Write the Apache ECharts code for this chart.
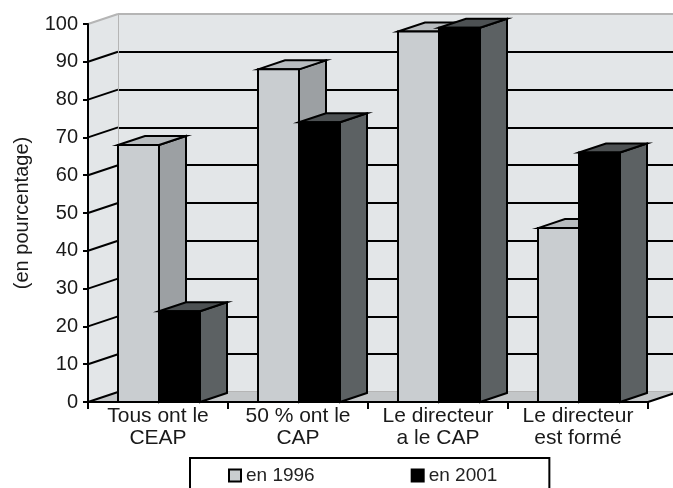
<!DOCTYPE html>
<html>
<head>
<meta charset="utf-8">
<script src="https://cdn.jsdelivr.net/npm/echarts/dist/echarts.min.js"></script>
<style>
  html, body { margin: 0; padding: 0; background: #fff; }
  #main { width: 673px; height: 488px; }
</style>
</head>
<body>
<div id="main"></div>
<script>
var categories = ['Tous ont le\nCEAP', '50 % ont le\nCAP', 'Le directeur\na le CAP', 'Le directeur\nest formé'];
var values1996 = [68, 88, 98, 46];
var values2001 = [24, 74, 99, 66];
var yTicks = [0, 10, 20, 30, 40, 50, 60, 70, 80, 90, 100];
var seriesNames = ['en 1996', 'en 2001'];

var FONT = '"Liberation Sans", Arial, sans-serif';
var DX = 30, DY = -10;     // profondeur des murs
var BDX = 27, BDY = -9;    // profondeur des barres
var BW = 41;               // largeur d'une barre

var colors1996 = { front: '#c9cdd0', top: '#b8bcbf', side: '#9ca0a3' };
var colors2001 = { front: '#000000', top: '#4d5153', side: '#5c6163' };

// murs, sol et traits de graduation obliques
function renderDecor(params, api) {
  var cs = params.coordSys;
  var x0 = cs.x, x1 = cs.x + cs.width, yT = cs.y, yB = cs.y + cs.height;
  var children = [
    { type: 'polygon', shape: { points: [[x0, yB], [x0, yT], [x0 + DX, yT + DY], [x0 + DX, yB + DY]] },
      style: { fill: '#e3e6e8' } },
    { type: 'polygon', shape: { points: [[x0, yB], [x0 + DX, yB + DY], [x1 + DX, yB + DY], [x1, yB]] },
      style: { fill: '#c3c6c8' } }
  ];
  yTicks.forEach(function (t, i) {
    var y = api.coord([0, t])[1];
    children.push({
      type: 'line',
      shape: { x1: x0, y1: y, x2: x0 + DX, y2: y + DY },
      style: { stroke: i === yTicks.length - 1 ? '#b5b5b5' : '#000', lineWidth: 2 }
    });
  });
  children.push({ type: 'line', shape: { x1: x1, y1: yB, x2: x1 + DX, y2: yB + DY },
    style: { stroke: '#000', lineWidth: 2 } });
  return { type: 'group', children: children };
}

function barRenderer(idx, col) {
  return function (params, api) {
    var c = api.value(0), v = api.value(1);
    var top = api.coord([c, v]);
    var base = api.coord([c, 0]);
    var x = top[0] - BW + 1 + idx * BW;
    var yt = top[1], yb = base[1];
    var edge = { stroke: '#000', lineWidth: 2, lineJoin: 'miter' };
    return {
      type: 'group',
      children: [
        { type: 'polygon', shape: { points: [[x + BW, yt], [x + BW + BDX, yt + BDY], [x + BW + BDX, yb + BDY], [x + BW, yb]] },
          style: Object.assign({ fill: col.side }, edge) },
        { type: 'polygon', shape: { points: [[x, yt], [x + BDX, yt + BDY], [x + BW + BDX, yt + BDY], [x + BW, yt]] },
          style: Object.assign({ fill: col.top }, edge) },
        { type: 'rect', shape: { x: x, y: yt, width: BW, height: yb - yt },
          style: Object.assign({ fill: col.front }, edge) }
      ]
    };
  };
}

var chart = echarts.init(document.getElementById('main'));

var backLines = yTicks.map(function (t, i) {
  return (i === 0 || i === yTicks.length - 1) ? '#b5b5b5' : '#000';
});

var option = {
  backgroundColor: '#ffffff',
  animation: false,
  grid: [
    { left: 88, top: 24, width: 560, height: 378, outerBoundsMode: 'none', containLabel: false },
    { left: 88 + DX, top: 24 + DY, width: 560, height: 378, outerBoundsMode: 'none', containLabel: false,
      show: true, backgroundColor: '#e3e6e8', borderWidth: 0 }
  ],
  legend: {
    data: [{ name: seriesNames[0], icon: 'rect' }, { name: seriesNames[1], icon: 'rect' }],
    left: 190, top: 458,
    padding: [8, 52, 20, 38],
    itemGap: 96, itemWidth: 12, itemHeight: 12,
    borderColor: '#000', borderWidth: 2,
    textStyle: { fontSize: 19, fontFamily: FONT, color: '#222' }
  },
  xAxis: [
    {
      type: 'category', gridIndex: 0, data: categories, z: 5,
      axisLine: { lineStyle: { color: '#000', width: 2 } },
      axisTick: { show: true, length: 7, lineStyle: { color: '#000', width: 2 } },
      axisLabel: { margin: 3, fontSize: 21, lineHeight: 22, fontFamily: FONT, color: '#1a1a1a', interval: 0 },
      splitLine: { show: false }
    },
    { type: 'category', gridIndex: 1, data: categories, show: false }
  ],
  yAxis: [
    {
      type: 'value', gridIndex: 0, min: 0, max: 100, interval: 10, z: 5,
      name: '(en pourcentage)', nameLocation: 'middle', nameRotate: 90, nameGap: 56,
      nameTextStyle: { fontSize: 20, fontFamily: FONT, color: '#1a1a1a' },
      axisLine: { show: true, lineStyle: { color: '#000', width: 2 } },
      axisTick: { show: true, length: 5, lineStyle: { color: '#000', width: 2 } },
      axisLabel: { margin: 10, fontSize: 20, fontFamily: FONT, color: '#1a1a1a' },
      splitLine: { show: false }
    },
    {
      type: 'value', gridIndex: 1, min: 0, max: 100, interval: 10,
      axisLine: { show: true, lineStyle: { color: '#b5b5b5', width: 1 } },
      axisTick: { show: false },
      axisLabel: { show: false },
      splitLine: { show: true, lineStyle: { color: backLines, width: 2 } }
    }
  ],
  series: [
    {
      type: 'custom', name: 'decor', xAxisIndex: 0, yAxisIndex: 0, z: 1, silent: true,
      renderItem: renderDecor, data: [[0, 0]]
    },
    {
      type: 'custom', name: seriesNames[0], xAxisIndex: 0, yAxisIndex: 0, z: 2,
      itemStyle: { color: colors1996.front, borderColor: '#000', borderWidth: 2 },
      renderItem: barRenderer(0, colors1996),
      data: values1996.map(function (v, i) { return [i, v]; })
    },
    {
      type: 'custom', name: seriesNames[1], xAxisIndex: 0, yAxisIndex: 0, z: 2,
      itemStyle: { color: colors2001.front, borderColor: '#000', borderWidth: 2 },
      renderItem: barRenderer(1, colors2001),
      data: values2001.map(function (v, i) { return [i, v]; })
    }
  ]
};

chart.setOption(option);
</script>
</body>
</html>
